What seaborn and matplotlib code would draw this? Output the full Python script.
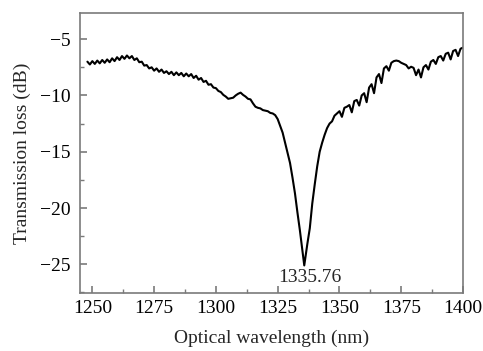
import numpy as np
import pandas as pd
import matplotlib
matplotlib.use("Agg")
import matplotlib.pyplot as plt
import seaborn as sns
from matplotlib.ticker import MultipleLocator

# ---- data ----
wavelength = list(range(1248, 1336)) + [1335.76] + list(range(1337, 1401))
loss = [
    -7.0, -7.25, -6.95, -7.2, -6.9, -7.15, -6.85, -7.1, -6.8, -7.05,      # 1248-1257
    -6.7, -6.95, -6.6, -6.85, -6.5, -6.75, -6.45, -6.7, -6.5, -6.85,      # 1258-1267
    -6.7, -7.05, -7.0, -7.35, -7.3, -7.6, -7.5, -7.8, -7.6, -7.9,         # 1268-1277
    -7.7, -8.0, -7.85, -8.1, -7.9, -8.2, -7.95, -8.2, -8.0, -8.3,         # 1278-1287
    -8.05, -8.3, -8.1, -8.45, -8.25, -8.6, -8.45, -8.8, -8.7, -9.05,      # 1288-1297
    -9.0, -9.3, -9.35, -9.6, -9.7, -9.95, -10.1, -10.3, -10.25, -10.2,    # 1298-1307
    -10.0, -9.85, -9.75, -9.95, -10.1, -10.3, -10.35, -10.7, -11.0, -11.1,  # 1308-1317
    -11.15, -11.3, -11.35, -11.4, -11.55, -11.6, -11.75, -12.1, -12.7, -13.3,  # 1318-1327
    -14.2, -15.1, -16.0, -17.3, -18.7, -20.4, -22.0, -23.8,               # 1328-1335
    -25.1,                                                                # 1335.76
    -23.2, -21.8, -19.6, -17.9, -16.3, -15.0, -14.2, -13.5, -12.9, -12.5,  # 1337-1346
    -12.3, -11.8, -11.6, -11.4, -11.9, -11.1, -11.0, -10.85, -11.5, -10.5,  # 1347-1356
    -10.4, -10.9, -10.0, -9.8, -10.6, -9.3, -9.0, -9.8, -8.4, -8.1,       # 1357-1366
    -8.9, -7.6, -7.4, -7.8, -7.1, -6.95, -6.9, -6.95, -7.1, -7.2,         # 1367-1376
    -7.3, -7.6, -7.45, -7.55, -8.2, -7.7, -8.4, -7.5, -7.3, -7.7,         # 1377-1386
    -7.0, -6.85, -7.2, -6.6, -6.5, -6.9, -6.3, -6.2, -6.8, -6.05,         # 1387-1396
    -5.95, -6.5, -5.85, -5.75,                                            # 1397-1400
]
x_ticks = [1250, 1275, 1300, 1325, 1350, 1375, 1400]
y_ticks = [-25, -20, -15, -10, -5]
peak_label = "1335.76"

df = pd.DataFrame({"wavelength": wavelength, "loss": loss})

sns.set_style("white")
plt.rcParams["font.family"] = ["Liberation Serif", "DejaVu Serif"]
plt.rcParams["axes.unicode_minus"] = True

fig = plt.figure(figsize=(4.83, 3.51), dpi=100)
ax = fig.add_axes([0.1656, 0.1652, 0.7930, 0.7986])

sns.lineplot(data=df, x="wavelength", y="loss", ax=ax, color="black",
             linewidth=1.5, estimator=None, sort=False)

ax.set_xlim(1245, 1400)
ax.set_ylim(-27.55, -2.65)
ax.set_xticks(x_ticks)
ax.set_yticks(y_ticks)
ax.xaxis.set_minor_locator(MultipleLocator(12.5))
ax.yaxis.set_minor_locator(MultipleLocator(2.5))

edge = "#7a7a7a"
for s in ax.spines.values():
    s.set_color(edge)
    s.set_linewidth(1.2)
ax.tick_params(which="both", direction="in", color=edge, bottom=True, left=True,
               top=False, right=False, labelsize=14, labelcolor="black")
ax.tick_params(which="major", length=5, width=1.2)
ax.tick_params(which="minor", length=3, width=1.0)
ax.tick_params(axis="x", pad=5)
ax.tick_params(axis="y", pad=7)

ax.set_xlabel("Optical wavelength (nm)", fontsize=14, labelpad=9)
ax.set_ylabel("Transmission loss (dB)", fontsize=14, labelpad=6)

ax.text(1338, -25.45, peak_label, ha="center", va="top", fontsize=14)

fig.savefig("out.png", dpi=100)
